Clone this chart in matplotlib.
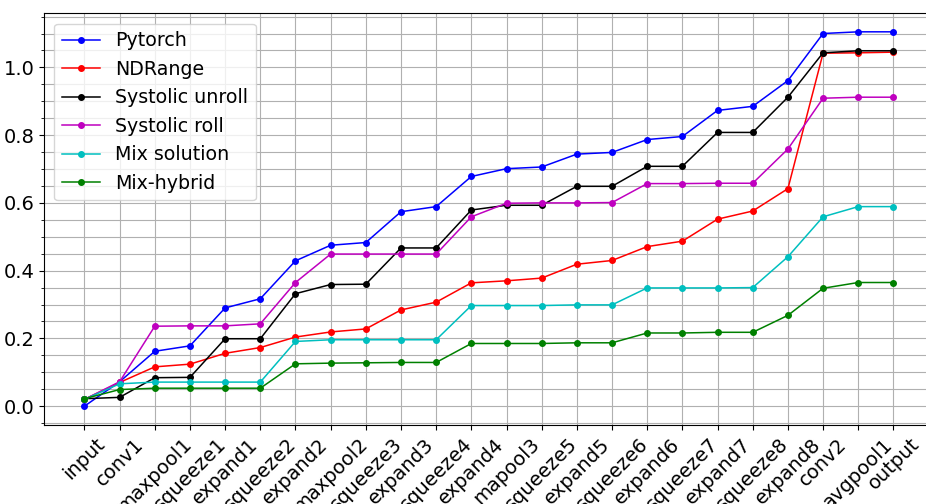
import matplotlib
matplotlib.use("Agg")
import matplotlib.pyplot as plt
from matplotlib.ticker import AutoMinorLocator

layers = ["input", "conv1", "maxpool1", "squeeze1", "expand1", "squeeze2",
          "expand2", "maxpool2", "squeeze3", "expand3", "squeeze4", "expand4",
          "mapool3", "squeeze5", "expand5", "squeeze6", "expand6", "squeeze7",
          "expand7", "squeeze8", "expand8", "conv2", "avgpool1", "output"]

pytorch = [0.000, 0.072, 0.162, 0.178, 0.290, 0.317, 0.429, 0.475, 0.483,
           0.574, 0.589, 0.678, 0.701, 0.706, 0.744, 0.749, 0.787, 0.796,
           0.873, 0.885, 0.961, 1.100, 1.105, 1.105]
ndrange = [0.020, 0.070, 0.116, 0.124, 0.156, 0.173, 0.204, 0.219, 0.228,
           0.284, 0.307, 0.364, 0.370, 0.378, 0.419, 0.430, 0.471, 0.487,
           0.552, 0.576, 0.642, 1.042, 1.043, 1.045]
systolic_unroll = [0.022, 0.026, 0.084, 0.085, 0.199, 0.199, 0.332, 0.359,
                   0.360, 0.467, 0.467, 0.579, 0.593, 0.593, 0.649, 0.649,
                   0.708, 0.708, 0.808, 0.808, 0.912, 1.043, 1.049, 1.049]
systolic_roll = [0.020, 0.072, 0.236, 0.237, 0.237, 0.243, 0.365, 0.449,
                 0.449, 0.449, 0.449, 0.559, 0.599, 0.600, 0.600, 0.601,
                 0.657, 0.657, 0.658, 0.658, 0.759, 0.909, 0.912, 0.912]
mix_solution = [0.020, 0.066, 0.071, 0.071, 0.071, 0.071, 0.191, 0.196,
                0.196, 0.196, 0.196, 0.297, 0.297, 0.297, 0.299, 0.299,
                0.349, 0.349, 0.349, 0.350, 0.441, 0.559, 0.589, 0.589]
mix_hybrid = [0.022, 0.049, 0.053, 0.053, 0.053, 0.053, 0.125, 0.127,
              0.128, 0.129, 0.129, 0.185, 0.185, 0.185, 0.187, 0.187,
              0.216, 0.216, 0.218, 0.218, 0.268, 0.348, 0.365, 0.365]

series = [
    ("Pytorch", pytorch, "b"),
    ("NDRange", ndrange, "r"),
    ("Systolic unroll", systolic_unroll, "k"),
    ("Systolic roll", systolic_roll, "m"),
    ("Mix solution", mix_solution, "c"),
    ("Mix-hybrid", mix_hybrid, "g"),
]

fig = plt.figure(figsize=(9.26, 5.04), dpi=100)
ax = fig.add_axes([0.0475, 0.157, 0.961, 0.817])

x = list(range(len(layers)))
for name, vals, col in series:
    ax.plot(x, vals, color=col, marker="o", markersize=4, linewidth=1.1,
            label=name)

ax.set_xticks(x)
ax.set_xticklabels(layers, rotation=45, fontsize=14)
ax.tick_params(axis="y", labelsize=14)
ax.yaxis.set_minor_locator(AutoMinorLocator())
ax.grid(which="both")
ax.legend(loc="upper left", fontsize=13.7, labelspacing=0.5,
          borderaxespad=0.55)

fig.savefig("out.png", dpi=100)
